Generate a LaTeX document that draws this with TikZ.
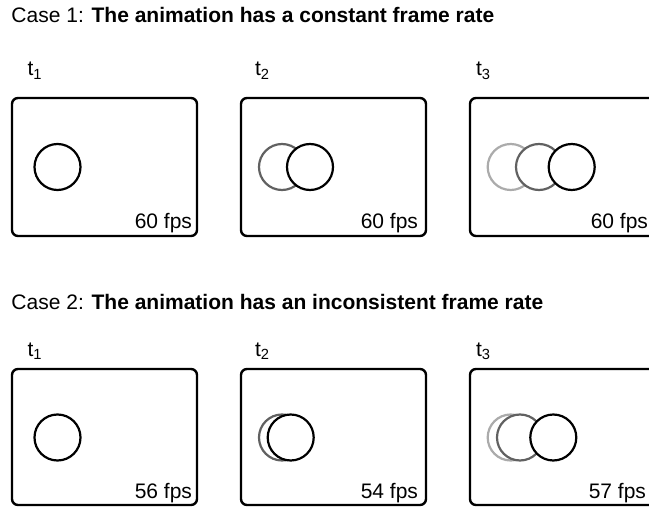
\documentclass[tikz,border=0pt]{standalone}
\usepackage{fontspec}
\setmainfont{Liberation Sans}
\begin{document}
\begin{tikzpicture}[x=1pt,y=-1pt,
  every node/.style={inner sep=0pt,outer sep=0pt},
  txt/.style={font=\fontsize{21}{25}\selectfont},
  frame/.style={draw=black,line width=2.4pt,rounded corners=6pt,minimum width=185pt,fill=white},
  ball/.style={circle,draw,line width=2.2pt,minimum size=46pt,fill=white},
  dark/.style={ball,draw=black},
  mid/.style={ball,draw=black!62},
  light/.style={ball,draw=black!33}]
\useasboundingbox (0,0) rectangle (649,508);
\clip (0,0) rectangle (649,508);
% ---------- Case 1 ----------
\node[txt,anchor=base west] (title1) at (11.5,22.7) {Case 1: \textbf{The animation has a constant frame rate}};
\node[txt,anchor=base west] (ta1) at (27.5,76) {t\textsubscript{1}};
\node[txt,anchor=base west] (ta2) at (255,76) {t\textsubscript{2}};
\node[txt,anchor=base west] (ta3) at (476,76) {t\textsubscript{3}};
\node[frame,minimum height=138pt] (fa1) at (104.5,167) {};
\node[frame,minimum height=138pt] (fa2) at (333.5,167) {};
\node[frame,minimum height=138pt] (fa3) at (562.5,167) {};
\node[dark] (ca1) at (57.5,167) {};
\node[mid] (ca2g) at (282,167) {};
\node[dark] (ca2) at (310,167) {};
\node[light] (ca3l) at (510.7,167) {};
\node[mid] (ca3g) at (539,167) {};
\node[dark] (ca3) at (571.7,167) {};
\node[txt,anchor=base east] (fpsa1) at (192,229) {60 fps};
\node[txt,anchor=base east] (fpsa2) at (418,229) {60 fps};
\node[txt,anchor=base east] (fpsa3) at (648,229) {60 fps};
% ---------- Case 2 ----------
\node[txt,anchor=base west] (title2) at (11.5,309.3) {Case 2: \textbf{The animation has an inconsistent frame rate}};
\node[txt,anchor=base west] (tb1) at (27.5,356) {t\textsubscript{1}};
\node[txt,anchor=base west] (tb2) at (255,356) {t\textsubscript{2}};
\node[txt,anchor=base west] (tb3) at (476,356) {t\textsubscript{3}};
\node[frame,minimum height=136pt] (fb1) at (104.5,437) {};
\node[frame,minimum height=136pt] (fb2) at (333.5,437) {};
\node[frame,minimum height=136pt] (fb3) at (562.5,437) {};
\node[dark] (cb1) at (57.5,437.5) {};
\node[mid] (cb2g) at (282,437.5) {};
\node[dark] (cb2) at (290.7,437.5) {};
\node[light] (cb3l) at (510.7,437.5) {};
\node[mid] (cb3g) at (520,437.5) {};
\node[dark] (cb3) at (553.3,437.5) {};
\node[txt,anchor=base east] (fpsb1) at (192,498.5) {56 fps};
\node[txt,anchor=base east] (fpsb2) at (418,498.5) {54 fps};
\node[txt,anchor=base east] (fpsb3) at (646,498.5) {57 fps};
\end{tikzpicture}
\end{document}
